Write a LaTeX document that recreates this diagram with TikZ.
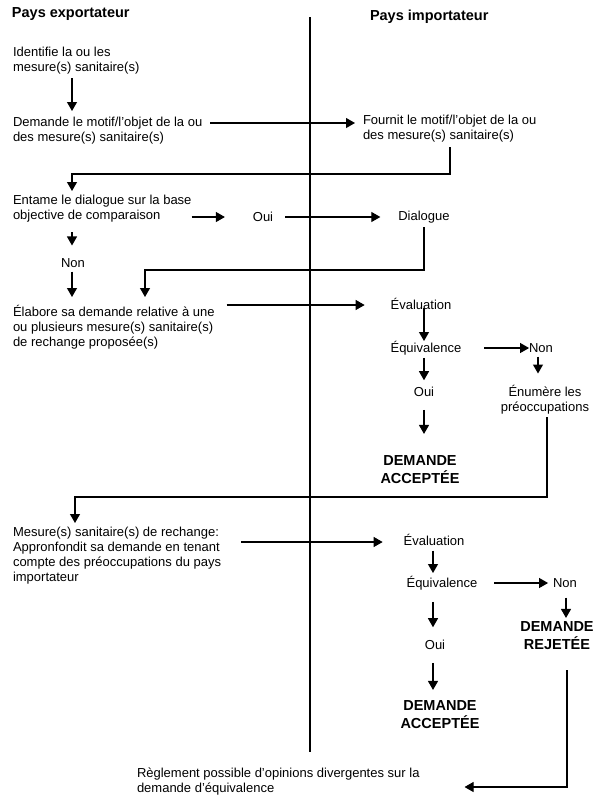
\documentclass[tikz,border=0pt]{standalone}
\usepackage{fontspec}
\setmainfont{Liberation Sans}
\usetikzlibrary{arrows.meta,calc}
\begin{document}
\begin{tikzpicture}[x=1pt,y=-1pt,
  every node/.style={inner sep=0pt,outer sep=0pt,font=\fontsize{13}{15}\selectfont},
  txt/.style={anchor=north west,align=left},
  ctr/.style={align=center},
  bold/.style={font=\fontsize{14.5}{18}\selectfont\bfseries,align=center},
  head/.style={font=\fontsize{14.5}{18}\selectfont\bfseries,anchor=west},
  arr/.style={draw,line width=1.1pt,-{Triangle[length=9pt,width=10pt]}},
  divider/.style={draw,line width=1.3pt}]
\useasboundingbox (0,0) rectangle (599,804);

% column / bend coordinates
\coordinate (top) at (310,17);
\coordinate (bot) at (310,752);
\coordinate (cA) at (72,0);
\coordinate (cB) at (424,0);
\coordinate (cC) at (538,0);
\coordinate (cD) at (433,0);
\coordinate (cE) at (566,0);
\coordinate (b1) at (450,174);
\coordinate (b2) at (72,174);
\coordinate (b3) at (424,270);
\coordinate (b4) at (145,270);
\coordinate (b5) at (547,497);
\coordinate (b6) at (75,497);
\coordinate (b7) at (567,787);

\draw[divider] (top) -- (bot);

% headers
\node[head] (hexp) at (12,14) {Pays exportateur};
\node[head] (himp) at (370,17) {Pays importateur};

% nodes
\node[txt] (n1) at (13,47) {Identifie la ou les\\mesure(s) sanitaire(s)};
\node[txt] (n2) at (13,117) {Demande le motif/l'objet de la ou\\des mesure(s) sanitaire(s)};
\node[txt] (n3) at (363,115) {Fournit le motif/l'objet de la ou\\des mesure(s) sanitaire(s)};
\node[txt] (n4) at (13,195) {Entame le dialogue sur la base\\objective de comparaison};
\node (oui1) at (263,217) {Oui};
\node (dial) at (424,217) {Dialogue};
\node (non1) at (73,263) {Non};
\node[txt] (n5) at (13,305) {Élabore sa demande relative à une\\ou plusieurs mesure(s) sanitaire(s)\\de rechange proposée(s)};
\node (eval1) at (421,304) {Évaluation};
\node (equi1) at (426,348) {Équivalence};
\node (non2) at (541,348) {Non};
\node[ctr] (enum) at (545,400) {Énumère les\\préoccupations};
\node (oui2) at (424,392) {Oui};
\node[bold] (acc1) at (420,470) {DEMANDE\\ACCEPTÉE};
\node[txt] (n6) at (13,527) {Mesure(s) sanitaire(s) de rechange:\\Appronfondit sa demande en tenant\\compte des préoccupations du pays\\importateur};
\node (eval2) at (434,540) {Évaluation};
\node (equi2) at (442,583) {Équivalence};
\node (non3) at (565,583) {Non};
\node[bold] (rej) at (557,636) {DEMANDE\\REJETÉE};
\node (oui3) at (435,645) {Oui};
\node[bold] (acc2) at (440,715) {DEMANDE\\ACCEPTÉE};
\node[txt] (regl) at (137,768) {Règlement possible d'opinions divergentes sur la\\demande d'équivalence};

% connectors
\draw[arr,shorten <=4pt,shorten >=6pt] (n1.south -| cA) -- (n2.north -| cA);
\draw[arr,shorten <=8pt,shorten >=8pt] ([yshift=-6pt]n2.north east) -- ([yshift=-6pt]n2.north east -| n3.west);
\draw[arr,shorten <=5pt,shorten >=4pt] (n3.south -| b1) -- (b1) -- (b2) -- (n4.north -| b2);
\draw[arr,shorten >=28pt] (n4.east |- oui1) -- (oui1.west);
\draw[arr,shorten <=12pt,shorten >=18pt] (oui1.east) -- (oui1.east -| dial.west);
\draw[arr,shorten <=4pt,shorten >=8pt] (dial.south -| b3) -- (b3) -- (b4) -- (n5.north -| b4);
\draw[arr,shorten <=10pt,shorten >=13pt] (n4.south -| cA) -- (non1.north -| cA);
\draw[arr,shorten <=4pt,shorten >=8pt] (non1.south -| cA) -- (n5.north -| cA);
\draw[arr,shorten <=12pt,shorten >=26pt] (n5.north east) -- (n5.north east -| eval1.west);
\draw[arr,shorten <=-2pt] (eval1.south -| cB) -- (equi1.north -| cB);
\draw[arr,shorten <=23pt] (equi1.east) -- (non2.west);
\draw[arr,shorten <=4pt,shorten >=12pt] (non2.south -| cC) -- (enum.north -| cC);
\draw[arr,shorten <=3pt,shorten >=7pt] (equi1.south -| cB) -- (oui2.north -| cB);
\draw[arr,shorten <=13pt,shorten >=22pt] (oui2.south -| cB) -- (acc1.north -| cB);
\draw[arr,shorten <=3pt,shorten >=4pt] (enum.south -| b5) -- (b5) -- (b6) -- (n6.north -| b6);
\draw[arr,shorten <=20pt,shorten >=21pt] ([yshift=-15pt]n6.north east) -- ([yshift=-15pt]n6.north east -| eval2.west);
\draw[arr,shorten <=5pt,shorten >=3pt] (eval2.south -| cD) -- (equi2.north -| cD);
\draw[arr,shorten <=17pt,shorten >=5pt] (equi2.east) -- (non3.west);
\draw[arr,shorten <=10pt,shorten >=4pt] (non3.south -| cE) -- (rej.north -| cE);
\draw[arr,shorten <=12pt,shorten >=13pt] (equi2.south -| cD) -- (oui3.north -| cD);
\draw[arr,shorten <=13pt,shorten >=11pt] (oui3.south -| cD) -- (acc2.north -| cD);
\draw[arr,shorten <=20pt,shorten >=45pt] (rej.south -| b7) -- (b7) -- (regl.east |- b7);
\end{tikzpicture}
\end{document}
